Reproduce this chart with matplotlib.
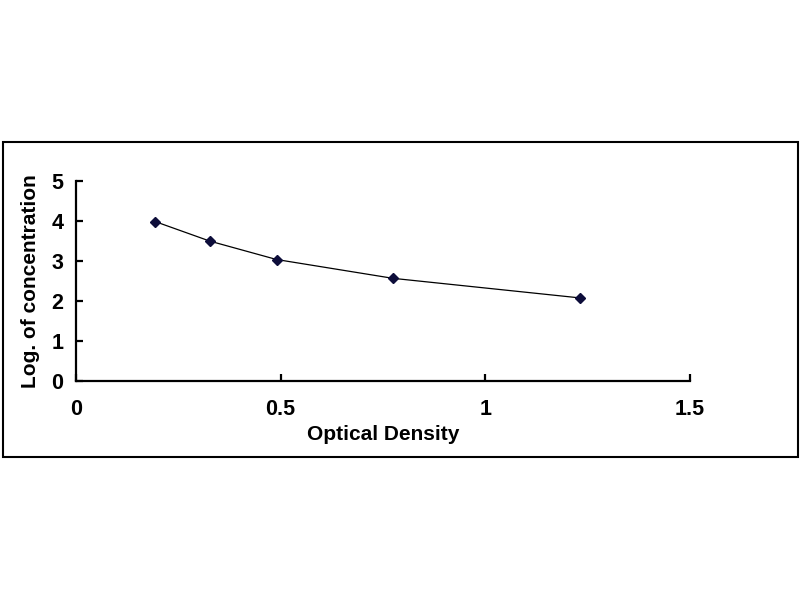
import matplotlib
matplotlib.use('Agg')
import matplotlib.pyplot as plt
from matplotlib.patches import Rectangle

# standard curve
od = [0.193, 0.327, 0.490, 0.774, 1.231]
log_conc = [3.98, 3.49, 3.03, 2.56, 2.07]

plt.rcParams['font.family'] = ['Liberation Sans', 'DejaVu Sans']
plt.rcParams['font.weight'] = 'bold'

fig = plt.figure(figsize=(8, 6), dpi=100)

# outer chart-area border
fig.patches.append(Rectangle((3 / 800, 143 / 600), 795 / 800, 315 / 600,
                             transform=fig.transFigure, fill=False,
                             edgecolor='black', linewidth=1.5))

ax = fig.add_axes([0.095, 0.3655, 0.7675, 0.3333])
ax.plot(od, log_conc, color='black', linewidth=0.9, marker='D',
        markersize=5.5, markerfacecolor='#0d0d3a', markeredgecolor='#0d0d3a')

ax.set_xlim(0, 1.5)
ax.set_ylim(0, 5)
ax.set_xticks([0, 0.5, 1, 1.5])
ax.set_xticklabels(['0', '0.5', '1', '1.5'])
ax.set_yticks([0, 1, 2, 3, 4, 5])

for s in ['top', 'right']:
    ax.spines[s].set_visible(False)
for s in ['left', 'bottom']:
    ax.spines[s].set_linewidth(1.6)

ax.tick_params(axis='x', direction='in', length=5, width=1.6, pad=13, labelsize=15.5)
ax.tick_params(axis='y', direction='in', length=5, width=1.6, pad=9, labelsize=15.5)

ax.set_xlabel('Optical Density', fontsize=15, fontweight='bold', labelpad=4)
ax.set_ylabel('Log. of concentration', fontsize=15, fontweight='bold', labelpad=8)

fig.savefig('out.png', dpi=100)
